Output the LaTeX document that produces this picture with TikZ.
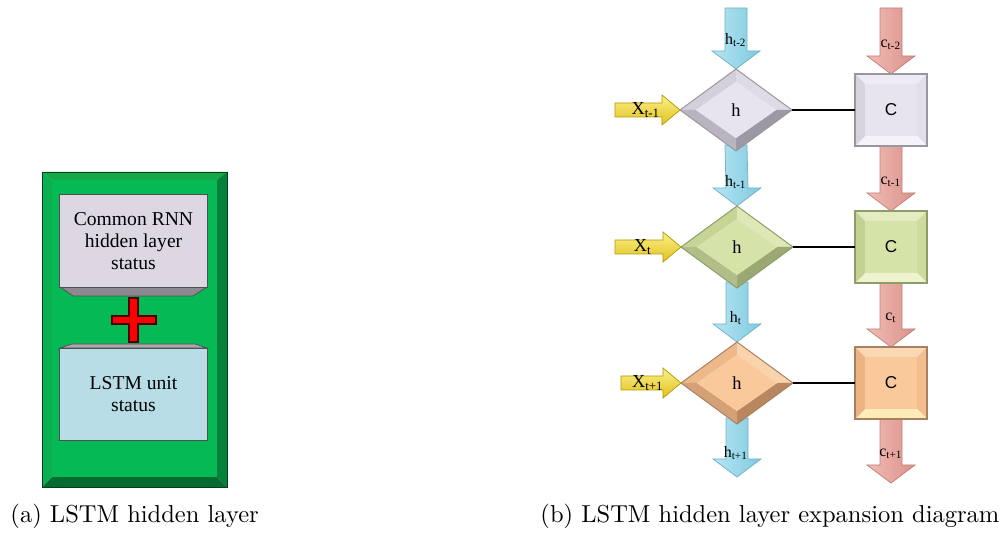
\documentclass[tikz,border=0pt]{standalone}
\usepackage{fontspec}
\newfontfamily\tnr{Liberation Serif}
\newfontfamily\arl{Liberation Sans}
\usetikzlibrary{calc,shapes.geometric}
\pgfdeclarelayer{bg}
\pgfsetlayers{bg,main}

\definecolor{gface}{HTML}{05B955}
\definecolor{gtop}{HTML}{14A84B}
\definecolor{gleft}{HTML}{0AB050}
\definecolor{gright}{HTML}{06803A}
\definecolor{gbot}{HTML}{056B2E}
\definecolor{gline}{HTML}{00401A}
\definecolor{rnnface}{HTML}{DCD7E3}
\definecolor{lstmface}{HTML}{B9DDE7}
\definecolor{bevgray}{HTML}{8C8A90}
\definecolor{bevgrayl}{HTML}{A9A8AE}
\definecolor{boxline}{HTML}{505050}
% diamonds
\definecolor{lvface}{HTML}{E7E3EF}
\definecolor{lvtl}{HTML}{D3CFDB}
\definecolor{lvtr}{HTML}{DEDAE6}
\definecolor{lvbr}{HTML}{9D99A4}
\definecolor{lvbl}{HTML}{B9B4C0}
\definecolor{lvline}{HTML}{9A96A0}
\definecolor{grface}{HTML}{D5E3A8}
\definecolor{grtl}{HTML}{C6D596}
\definecolor{grtr}{HTML}{DDE8B6}
\definecolor{grbr}{HTML}{9AA872}
\definecolor{grbl}{HTML}{B1BE88}
\definecolor{grline}{HTML}{8E9C6A}
\definecolor{pcface}{HTML}{F9C89B}
\definecolor{pctl}{HTML}{EDB98A}
\definecolor{pctr}{HTML}{F9D3AC}
\definecolor{pcbr}{HTML}{B8875F}
\definecolor{pcbl}{HTML}{D4A176}
\definecolor{pcline}{HTML}{A88060}
% boxes
\definecolor{lvbtop}{HTML}{EEEBF4}
\definecolor{lvbright}{HTML}{E2DEEA}
\definecolor{lvbbot}{HTML}{F5F3F9}
\definecolor{lvbleft}{HTML}{D6D2DE}
\definecolor{grbtop}{HTML}{E3ECC0}
\definecolor{grbright}{HTML}{CDDB9E}
\definecolor{grbbot}{HTML}{EEF3CE}
\definecolor{grbleft}{HTML}{C3D293}
\definecolor{pcbtop}{HTML}{FBD8B4}
\definecolor{pcbright}{HTML}{F3BE8E}
\definecolor{pcbbot}{HTML}{FDEBB8}
\definecolor{pcbleft}{HTML}{EBB482}
% arrows
\definecolor{blL}{HTML}{B6E6F4}
\definecolor{blR}{HTML}{80C9DF}
\definecolor{blline}{HTML}{6FB3C8}
\definecolor{rdL}{HTML}{F2BCB4}
\definecolor{rdR}{HTML}{D9928A}
\definecolor{rdline}{HTML}{C08078}
\definecolor{ywT}{HTML}{FAF08A}
\definecolor{ywB}{HTML}{E2C21E}
\definecolor{ywline}{HTML}{B89A00}

\tikzset{
  diamtext/.style={shape=diamond, minimum width=45.7pt, minimum height=33.5pt,
    inner sep=0pt, outer sep=0pt, font=\tnr\fontsize{7.5}{9}\selectfont},
  boxtext/.style={shape=rectangle, minimum width=29.4pt, minimum height=29.4pt,
    inner sep=0pt, outer sep=0pt, font=\arl\fontsize{7}{9}\selectfont},
  lbl/.style={font=\tnr\fontsize{6.5}{7}\selectfont, inner sep=0pt},
  statebox/.style={draw=boxline, line width=0.4pt, minimum width=60pt,
    minimum height=37.6pt, inner sep=0pt, align=center,
    font=\tnr\fontsize{8}{9}\selectfont},
  captext/.style={font=\fontsize{10}{12}\selectfont, inner sep=0pt},
  link/.style={line width=0.9pt, black},
  harrow/.style={left color=blL, right color=blR, draw=blline, line width=0.3pt},
  carrow/.style={left color=rdL, right color=rdR, draw=rdline, line width=0.3pt},
  xarrow/.style={top color=ywT, bottom color=ywB, draw=ywline, line width=0.3pt},
}

% beveled diamond: #1 name, #2 centre, #3 colour prefix
\newcommand\bevdiam[3]{%
  \begin{scope}[shift={(#2)}]
    \fill[#3tl] (-56,0) -- (0,-41) -- (0,-28) -- (-40,0) -- cycle;
    \fill[#3tr] (0,-41) -- (56,0) -- (40,0) -- (0,-28) -- cycle;
    \fill[#3br] (56,0) -- (0,41) -- (0,28) -- (40,0) -- cycle;
    \fill[#3bl] (0,41) -- (-56,0) -- (-40,0) -- (0,28) -- cycle;
    \fill[#3face] (-40,0) -- (0,-28) -- (40,0) -- (0,28) -- cycle;
    \draw[#3line, line width=0.4pt] (-56,0) -- (0,-41) -- (56,0) -- (0,41) -- cycle;
  \end{scope}
  \node[diamtext] (#1) at (#2) {h};
}
% beveled box: #1 name, #2 centre, #3 colour prefix (boxes), #4 prefix (diamonds)
\newcommand\bevbox[4]{%
  \begin{scope}[shift={(#2)}]
    \fill[#3top] (-36,-36) -- (36,-36) -- (26,-26) -- (-26,-26) -- cycle;
    \fill[#3right] (36,-36) -- (36,36) -- (26,26) -- (26,-26) -- cycle;
    \fill[#3bot] (36,36) -- (-36,36) -- (-26,26) -- (26,26) -- cycle;
    \fill[#3left] (-36,36) -- (-36,-36) -- (-26,-26) -- (-26,26) -- cycle;
    \fill[#4face] (-26,-26) rectangle (26,26);
    \draw[#4line, line width=0.6pt] (-36,-36) rectangle (36,36);
  \end{scope}
  \node[boxtext] (#1) at (#2) {C};
}
% downward block arrow from #2 to #3 with style #1
\newcommand\darrow[3]{%
  \path[#1] ($(#2)+(-11,0)$) -- ($(#3)+(-11,-18)$) -- ($(#3)+(-24,-18)$) -- (#3)
    -- ($(#3)+(24,-18)$) -- ($(#3)+(11,-18)$) -- ($(#2)+(11,0)$) -- cycle;
}
% rightward block arrow
\newcommand\rarrow[3]{%
  \path[#1] ($(#2)+(0,-7)$) -- ($(#3)+(-18,-7)$) -- ($(#3)+(-18,-15)$) -- (#3)
    -- ($(#3)+(-18,15)$) -- ($(#3)+(-18,7)$) -- ($(#2)+(0,7)$) -- cycle;
}

\begin{document}
\begin{tikzpicture}[x=0.408pt,y=-0.408pt]
\useasboundingbox (0,0) rectangle (1004,534);

% ---------------- (a) ----------------
\fill[gtop] (42,172) -- (227,172) -- (217,180) -- (52,180) -- cycle;
\fill[gright] (227,172) -- (227,487) -- (217,477) -- (217,180) -- cycle;
\fill[gbot] (227,487) -- (42,487) -- (52,477) -- (217,477) -- cycle;
\fill[gleft] (42,487) -- (42,172) -- (52,180) -- (52,477) -- cycle;
\fill[gface] (52,180) rectangle (217,477);
\draw[gline, line width=0.4pt] (42,172) rectangle (227,487);

\fill[bevgray] (60,287) -- (207,287) -- (193,296) -- (73,296) -- cycle;
\draw[boxline, line width=0.3pt] (60,287) -- (207,287) -- (193,296) -- (73,296) -- cycle;
\node[statebox, fill=rnnface] (rnn) at (133.5,241) {Common RNN\\hidden layer\\status};

\fill[bevgrayl] (72,344) -- (195,344) -- (207,348) -- (60,348) -- cycle;
\draw[boxline, line width=0.3pt] (72,344) -- (195,344) -- (207,348) -- (60,348) -- cycle;
\node[statebox, fill=lstmface, minimum height=37.9pt] (lstm) at (133.5,394.5) {LSTM unit\\status};

\filldraw[fill=red, draw=black!70!red, line width=0.5pt]
  (129,298) -- (138,298) -- (138,316) -- (156,316) -- (156,324) -- (138,324)
  -- (138,342) -- (129,342) -- (129,324) -- (112,324) -- (112,316) -- (129,316) -- cycle;

\node[captext, anchor=base west] (capa) at (10,523) {(a) LSTM hidden layer};

% ---------------- (b) ----------------
\bevdiam{h1}{736,110}{lv}
\bevdiam{h2}{737,247}{gr}
\bevdiam{h3}{737,383}{pc}
\bevbox{c1}{891,110}{lvb}{lv}
\bevbox{c2}{891,247}{grb}{gr}
\bevbox{c3}{891,383}{pcb}{pc}

\coordinate (htop) at (736,8);
\coordinate (ctop) at (891,8);
\coordinate (hbot) at (737,477);
\coordinate (cbot) at (891,483);
\coordinate (x1) at (615,110);
\coordinate (x2) at (615,247);
\coordinate (x3) at (621,383);

\begin{pgfonlayer}{bg}
  \darrow{harrow}{htop}{h1.north}
  \darrow{harrow}{$(h1.south)+(0,-6)$}{h2.north}
  \darrow{harrow}{$(h2.south)+(0,-6)$}{h3.north}
  \darrow{harrow}{$(h3.south)+(0,-6)$}{hbot}
  \darrow{carrow}{ctop}{c1.north}
  \darrow{carrow}{$(c1.south)+(0,-4)$}{c2.north}
  \darrow{carrow}{$(c2.south)+(0,-4)$}{c3.north}
  \darrow{carrow}{$(c3.south)+(0,-4)$}{cbot}
\end{pgfonlayer}
\rarrow{xarrow}{x1}{h1.west}
\rarrow{xarrow}{x2}{h2.west}
\rarrow{xarrow}{x3}{h3.west}

\draw[link] (h1.east) -- (c1.west);
\draw[link] (h2.east) -- (c2.west);
\draw[link] (h3.east) -- (c3.west);

\node[lbl] (lh0) at (736,40) {h\textsubscript{t-2}};
\node[lbl] (lc0) at (891,45) {c\textsubscript{t-2}};
\node[lbl] (lh1) at (736,182) {h\textsubscript{t-1}};
\node[lbl] (lc1) at (891,182) {c\textsubscript{t-1}};
\node[lbl] (lh2) at (736,318) {h\textsubscript{t}};
\node[lbl] (lc2) at (891,318) {c\textsubscript{t}};
\node[lbl] (lh3) at (736,453) {h\textsubscript{t+1}};
\node[lbl] (lc3) at (891,454) {c\textsubscript{t+1}};
\node[lbl, font=\tnr\fontsize{7.5}{8}\selectfont] (lx1) at (646,110) {X\textsubscript{t-1}};
\node[lbl, font=\tnr\fontsize{7.5}{8}\selectfont] (lx2) at (643,247) {X\textsubscript{t}};
\node[lbl, font=\tnr\fontsize{7.5}{8}\selectfont] (lx3) at (648,383) {X\textsubscript{t+1}};

\node[captext, anchor=base west] (capb) at (540,523) {(b) LSTM hidden layer expansion diagram};
\end{tikzpicture}
\end{document}
